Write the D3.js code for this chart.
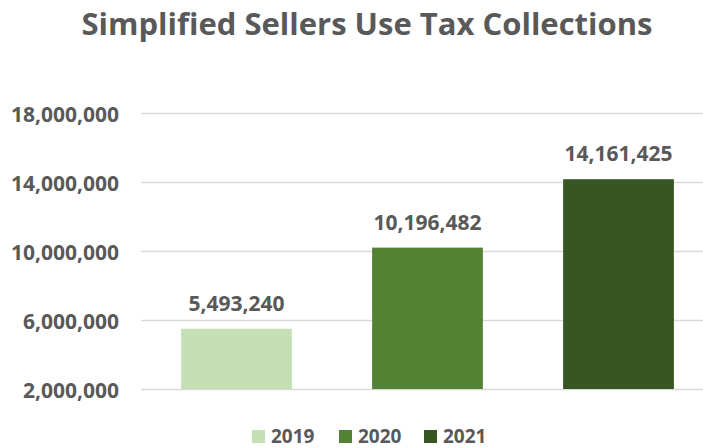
<!DOCTYPE html>
<html>
<head>
<meta charset="utf-8">
<script src="https://cdn.jsdelivr.net/npm/d3@7"></script>
<style>
  body { margin: 0; background: #fff; }
  svg text { font-family: "Open Sans", "DejaVu Sans", sans-serif; fill: #595959; font-weight: bold; }
</style>
</head>
<body>
<div id="chart"></div>
<script>
// data
const years = ['2019', '2020', '2021'];
const collections = [5493240, 10196482, 14161425];
const yTicks = [2000000, 6000000, 10000000, 14000000, 18000000];
const colors = ['#c5e0b4', '#548235', '#375623'];

const W = 703, H = 448;

const svg = d3.select("#chart")
    .append("svg")
    .attr("width", W)
    .attr("height", H);

const x = d3.scaleBand()
    .domain(years)
    .range([141, 714])
    .paddingInner(0.42)
    .paddingOuter(0.21);

const y = d3.scaleLinear()
    .domain([2000000, 18000000])
    .range([389, 113]);

const fmt = d3.format(",");

// title
svg.append("text")
    .attr("x", 367)
    .attr("y", 35)
    .attr("text-anchor", "middle")
    .style("font-size", "31px")
    .text("Simplified Sellers Use Tax Collections");

// gridlines + y labels
svg.append("g")
    .attr("transform", "translate(141,0)")
    .call(d3.axisLeft(y).tickValues(yTicks).tickFormat(fmt).tickSize(-(W - 141)).tickPadding(22))
    .call(g => g.select(".domain").remove())
    .call(g => g.selectAll(".tick line").attr("stroke", "#d9d9d9").attr("stroke-width", 1.3))
    .call(g => g.selectAll(".tick text").attr("dy", "0.4em").style("font-size", "21px").attr("fill", "#595959"));

// bars
svg.selectAll("rect.bar")
    .data(years)
    .enter()
    .append("rect")
    .attr("class", "bar")
    .attr("x", d => x(d))
    .attr("y", (d, i) => y(collections[i]))
    .attr("width", x.bandwidth())
    .attr("height", (d, i) => y(2000000) - y(collections[i]))
    .attr("fill", (d, i) => colors[i]);

// value labels
svg.selectAll("text.val")
    .data(years)
    .enter()
    .append("text")
    .attr("class", "val")
    .attr("x", d => x(d) + x.bandwidth() / 2)
    .attr("y", (d, i) => y(collections[i]) - 18)
    .attr("text-anchor", "middle")
    .style("font-size", "21px")
    .text((d, i) => fmt(collections[i]));

// legend
const legendX = [252, 339, 424];
const legend = svg.selectAll("g.leg")
    .data(years)
    .enter()
    .append("g")
    .attr("class", "leg")
    .attr("transform", (d, i) => `translate(${legendX[i]},0)`);

legend.append("rect")
    .attr("x", 0)
    .attr("y", 430)
    .attr("width", 13)
    .attr("height", 13)
    .attr("fill", (d, i) => colors[i]);

legend.append("text")
    .attr("x", 19)
    .attr("y", 443)
    .style("font-size", "19px")
    .text(d => d);
</script>
</body>
</html>
